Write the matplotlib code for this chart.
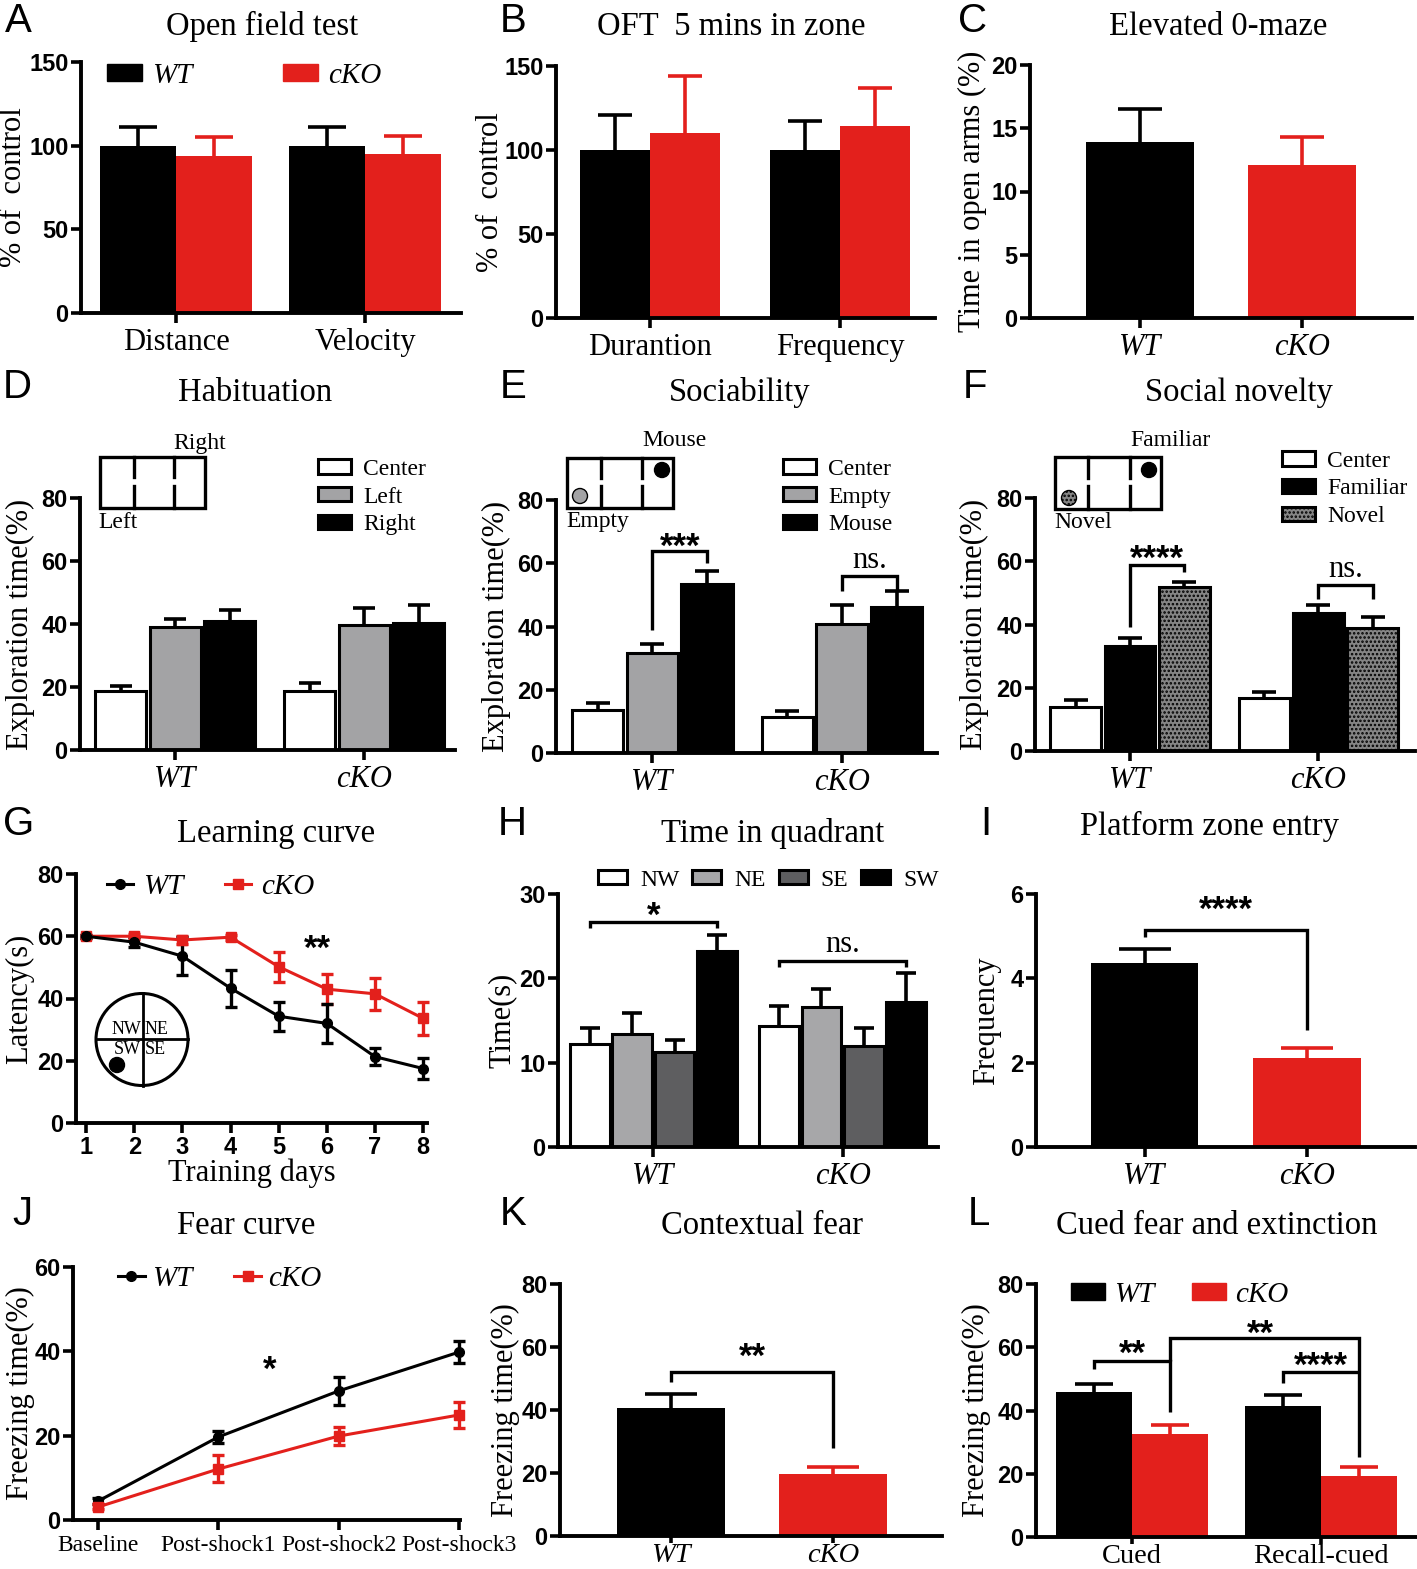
import numpy as np
import matplotlib
matplotlib.use('Agg')
import matplotlib.pyplot as plt
from matplotlib.patches import Patch, Rectangle, Circle
from matplotlib.lines import Line2D

SERIF = 'Liberation Serif'
SANS = 'Liberation Sans'
plt.rcParams['font.family'] = [SERIF, 'DejaVu Serif']
plt.rcParams['hatch.linewidth'] = 1.2

RED = '#e3201c'
GREY = '#a3a3a5'
DGREY = '#5e5e60'
NOVEL_FC = '#858585'

# ---------------- data ----------------
groups = ['WT', 'cKO']

oft_cats = ['Distance', 'Velocity']
oft_wt = [100, 100]
oft_wt_err = [11, 11]
oft_ko = [94, 95]
oft_ko_err = [11, 11]

zone_cats = ['Durantion', 'Frequency']
zone_wt = [100, 100]
zone_wt_err = [21, 17]
zone_ko = [110, 114]
zone_ko_err = [34, 23]

maze_vals = [13.9, 12.1]
maze_err = [2.6, 2.2]

hab_labels = ['Center', 'Left', 'Right']
hab_vals = [[18.7, 18.7], [39.0, 39.7], [41.0, 40.3]]
hab_err = [[1.6, 2.6], [2.6, 5.3], [3.4, 5.7]]

soc_labels = ['Center', 'Empty', 'Mouse']
soc_vals = [[13.6, 11.4], [31.6, 40.8], [53.5, 46.2]]
soc_err = [[2.2, 1.9], [2.9, 6.0], [4.1, 5.1]]

nov_labels = ['Center', 'Familiar', 'Novel']
nov_vals = [[13.9, 16.8], [33.2, 43.7], [51.9, 38.9]]
nov_err = [[2.2, 1.9], [2.6, 2.5], [1.6, 3.5]]

days = [1, 2, 3, 4, 5, 6, 7, 8]
lc_wt = [60, 58.1, 53.6, 43.3, 34.3, 32.0, 21.3, 17.5]
lc_wt_err = [0.5, 1.5, 6.2, 6.0, 4.6, 6.3, 2.8, 3.4]
lc_ko = [60, 60, 58.8, 59.7, 50.2, 43.0, 41.5, 33.6]
lc_ko_err = [0.5, 0.8, 1.2, 0.8, 4.9, 4.8, 5.2, 5.4]

quad_labels = ['NW', 'NE', 'SE', 'SW']
quad_vals = [[12.2, 14.3], [13.4, 16.6], [11.3, 12.0], [23.3, 17.2]]
quad_err = [[1.9, 2.4], [2.5, 2.1], [1.4, 2.1], [1.8, 3.4]]

platform_vals = [4.36, 2.11]
platform_err = [0.33, 0.24]

fear_steps = ['Baseline', 'Post-shock1', 'Post-shock2', 'Post-shock3']
fear_wt = [4.5, 19.7, 30.6, 39.8]
fear_wt_err = [0.6, 1.4, 3.3, 2.6]
fear_ko = [3.1, 12.1, 19.9, 24.9]
fear_ko_err = [0.6, 3.2, 2.1, 3.0]

ctx_vals = [40.6, 19.7]
ctx_err = [4.5, 2.2]

cued_cats = ['Cued', 'Recall-cued']
cued_wt = [45.9, 41.5]
cued_wt_err = [2.5, 3.4]
cued_ko = [32.6, 19.3]
cued_ko_err = [2.8, 2.9]

# ---------------- helpers ----------------
W, H = 1417, 1569
fig = plt.figure(figsize=(W / 100, H / 100), dpi=100)


def panel(l, t, r, b, xlim, ylim, yticks):
    ax = fig.add_axes([l / W, 1 - b / H, (r - l) / W, (b - t) / H])
    for s in ('top', 'right'):
        ax.spines[s].set_visible(False)
    for s in ('left', 'bottom'):
        ax.spines[s].set_linewidth(2.8)
    ax.set_xlim(*xlim)
    ax.set_ylim(*ylim)
    ax.set_yticks(yticks, [str(v) for v in yticks], fontfamily=SANS,
                  fontweight='bold', fontsize=17)
    ax.tick_params(width=2.6, length=7)
    ax.tick_params(axis='y', pad=2)
    ax.tick_params(axis='x', pad=4)
    return ax


def ylab(ax, text, xc, size=22):
    ax.set_ylabel(text, fontfamily=SERIF, fontsize=size)
    pos = ax.get_position()
    ax.yaxis.label.set_va('center')
    ax.yaxis.set_label_coords((xc / W - pos.x0) / pos.width, 0.5)


# SEM bars drawn behind the bars, so only the upper half shows
def up_err(ax, x, y, e, color, cap):
    ax.errorbar(x, y, yerr=e, fmt='none', ecolor=color,
                elinewidth=2.6, capsize=cap, capthick=2.6, zorder=1)


def grouped(ax, vals, errs, colors, pitch, width, cap, hatches=None):
    x = np.arange(len(groups))
    n = len(vals)
    for i in range(n):
        off = (i - (n - 1) / 2) * pitch
        ax.bar(x + off, vals[i], width, color=colors[i], edgecolor='black',
               linewidth=2.2, zorder=2, hatch=None if hatches is None else hatches[i])
        up_err(ax, x + off, vals[i], errs[i], 'black', cap)
    ax.set_xticks(x, groups, fontfamily=SERIF, fontsize=22, style='italic')
    return x


def bracket(ax, x1, x2, yl, yt, yr):
    ax.plot([x1, x1, x2, x2], [yl, yt, yt, yr], color='black', lw=2.4,
            clip_on=False, solid_joinstyle='miter', solid_capstyle='butt')


def stars(ax, x, y, s, size=25):
    ax.annotate(s, (x, y), xytext=(0, 2.5), textcoords='offset points',
                ha='center', va='baseline', fontfamily=SANS,
                fontweight='bold', fontsize=size)


def ns(ax, x, y):
    ax.text(x, y, 'ns.', ha='center', va='baseline', fontfamily=SERIF, fontsize=22)


def leg(ax, handles, labels, x, y, size, italic=False, **kw):
    prop = {'family': SERIF, 'size': size}
    if italic:
        prop['style'] = 'italic'
    ax.legend(handles, labels, loc='center left', bbox_to_anchor=(x / W, 1 - y / H),
              bbox_transform=fig.transFigure, frameon=False, borderpad=0,
              borderaxespad=0, prop=prop, **kw)


def box_patch(fc, hatch=None):
    return Patch(facecolor=fc, edgecolor='black', linewidth=2.2, hatch=hatch)


# ---------------- A: open field ----------------
axA = panel(81, 62, 461, 313, (-0.503, 1.508), (0, 150), [0, 50, 100, 150])
x = np.arange(len(oft_cats))
w = 0.40
axA.bar(x - w / 2, oft_wt, w, color='black', zorder=2)
axA.bar(x + w / 2, oft_ko, w, color=RED, zorder=2)
up_err(axA, x - w / 2, oft_wt, oft_wt_err, 'black', 14)
up_err(axA, x + w / 2, oft_ko, oft_ko_err, RED, 14)
axA.set_xticks(x, oft_cats, fontfamily=SERIF, fontsize=22)
ylab(axA, '% of  control', 14)
leg(axA, [Patch(color='black'), Patch(color=RED)], groups, 107, 76, 21, italic=True,
    ncol=2, handlelength=1.2, handleheight=0.5, handletextpad=0.34, columnspacing=3.1)

# ---------------- B: OFT zone ----------------
axB = panel(556, 66, 935, 318, (-0.495, 1.5), (0, 150), [0, 50, 100, 150])
x = np.arange(len(zone_cats))
w = 0.37
axB.bar(x - w / 2, zone_wt, w, color='black', zorder=2)
axB.bar(x + w / 2, zone_ko, w, color=RED, zorder=2)
up_err(axB, x - w / 2, zone_wt, zone_wt_err, 'black', 12)
up_err(axB, x + w / 2, zone_ko, zone_ko_err, RED, 12)
axB.set_xticks(x, zone_cats, fontfamily=SERIF, fontsize=22)
ylab(axB, '% of  control', 490)

# ---------------- C: 0-maze ----------------
axC = panel(1030, 65, 1412, 318, (-0.679, 1.679), (0, 20), [0, 5, 10, 15, 20])
x = np.arange(len(groups))
axC.bar(x, maze_vals, 0.667, color=['black', RED], zorder=2)
for xi, v, e, c in zip(x, maze_vals, maze_err, ['black', RED]):
    up_err(axC, [xi], [v], [e], c, 16)
axC.set_xticks(x, groups, fontfamily=SERIF, fontsize=22, style='italic')
ylab(axC, 'Time in open arms (%)', 972)

# ---------------- D: habituation ----------------
axD = panel(80, 498, 455, 750, (-0.503, 1.48), (0, 80), [0, 20, 40, 60, 80])
grouped(axD, hab_vals, hab_err, ['white', GREY, 'black'], 0.288, 0.27, 8)
ylab(axD, 'Exploration time(%)', 20)
leg(axD, [box_patch('white'), box_patch(GREY), box_patch('black')], hab_labels,
    318, 497, 17, handlelength=1.4, handleheight=0.55, handletextpad=0.5, labelspacing=0.28)

# ---------------- E: sociability ----------------
axE = panel(556, 500, 937, 753, (-0.509, 1.501), (0, 80), [0, 20, 40, 60, 80])
xg = grouped(axE, soc_vals, soc_err, ['white', GREY, 'black'], 0.288, 0.27, 8.5)
ylab(axE, 'Exploration time(%)', 496)
bracket(axE, xg[0], xg[0] + 0.288, 38.9, 63.9, 60.1)
stars(axE, xg[0] + 0.144, 60.9, '***')
bracket(axE, xg[1], xg[1] + 0.288, 51.3, 56.0, 51.3)
ns(axE, xg[1] + 0.144, 58.5)
leg(axE, [box_patch('white'), box_patch(GREY), box_patch('black')], soc_labels,
    783, 497, 17, handlelength=1.4, handleheight=0.55, handletextpad=0.5, labelspacing=0.28)

# ---------------- F: social novelty ----------------
axF = panel(1035, 498, 1415, 751, (-0.504, 1.512), (0, 80), [0, 20, 40, 60, 80])
xg = grouped(axF, nov_vals, nov_err, ['white', 'black', NOVEL_FC], 0.288, 0.27, 8.5,
             hatches=[None, None, '....'])
ylab(axF, 'Exploration time(%)', 974)
bracket(axF, xg[0], xg[0] + 0.288, 39.2, 58.9, 56.6)
stars(axF, xg[0] + 0.144, 56.5, '****')
bracket(axF, xg[1], xg[1] + 0.288, 48.1, 52.5, 48.1)
ns(axF, xg[1] + 0.144, 55.1)
leg(axF, [box_patch('white'), box_patch('black'), box_patch(NOVEL_FC, '....')], nov_labels,
    1282, 489, 17, handlelength=1.4, handleheight=0.55, handletextpad=0.5, labelspacing=0.28)

# ---------------- G: learning curve ----------------
axG = panel(76, 874, 427, 1123, (0.79, 8.08), (0, 80), [0, 20, 40, 60, 80])
axG.errorbar(days, lc_ko, yerr=lc_ko_err, color=RED, marker='s', ms=7, lw=2.2,
             elinewidth=2.4, capsize=4.5, capthick=2.4, clip_on=False)
axG.errorbar(days, lc_wt, yerr=lc_wt_err, color='black', marker='o', ms=7, lw=2.2,
             elinewidth=2.4, capsize=4.5, capthick=2.4, clip_on=False)
axG.set_xticks(days, [str(d) for d in days], fontfamily=SANS, fontweight='bold', fontsize=17)
axG.tick_params(axis='x', pad=2)
axG.set_xlabel('Training days', fontfamily=SERIF, fontsize=22, labelpad=0)
ylab(axG, 'Latency(s)', 20)
stars(axG, 5.8, 51.6, '**')
leg(axG, [Line2D([], [], color='black', marker='o', ms=7, lw=2.2),
          Line2D([], [], color=RED, marker='s', ms=7, lw=2.2)], groups,
    107, 887, 21, italic=True, ncol=2, handlelength=0.9, handletextpad=0.34, columnspacing=1.4)

# ---------------- H: quadrant ----------------
axH = panel(558, 894, 938, 1147, (-0.505, 1.505), (0, 30), [0, 10, 20, 30])
xg = grouped(axH, quad_vals, quad_err, ['white', '#a7a7a9', DGREY, 'black'], 0.224, 0.21, 7.5)
ylab(axH, 'Time(s)', 502)
bracket(axH, xg[0] - 1.5 * 0.224, xg[0] + 1.5 * 0.224, 26.0, 26.7, 26.0)
stars(axH, xg[0] + 0.0, 25.8, '*')
bracket(axH, xg[1] - 1.5 * 0.224, xg[1] + 1.5 * 0.224, 21.4, 22.1, 21.4)
ns(axH, xg[1], 23.1)
leg(axH, [box_patch('white'), box_patch('#a7a7a9'), box_patch(DGREY), box_patch('black')],
    quad_labels, 598, 880, 17, ncol=4, handlelength=1.23, handleheight=0.55,
    handletextpad=0.55, columnspacing=0.55)

# ---------------- I: platform entries ----------------
axI = panel(1036, 894, 1415, 1147, (-0.668, 1.665), (0, 6), [0, 2, 4, 6])
x = np.arange(len(groups))
axI.bar(x, platform_vals, 0.66, color=['black', RED], zorder=2)
for xi, v, e, c in zip(x, platform_vals, platform_err, ['black', RED]):
    up_err(axI, [xi], [v], [e], c, 19)
axI.set_xticks(x, groups, fontfamily=SERIF, fontsize=22, style='italic')
ylab(axI, 'Frequency', 987)
bracket(axI, x[0], x[1], 4.98, 5.14, 2.77)
stars(axI, 0.5, 5.30, '****')

# ---------------- J: fear curve ----------------
axJ = panel(73, 1267, 460, 1520, (-0.21, 3.01), (0, 60), [0, 20, 40, 60])
xs = np.arange(len(fear_steps))
axJ.errorbar(xs, fear_wt, yerr=fear_wt_err, color='black', marker='o', ms=7, lw=2.2,
             elinewidth=2.4, capsize=4, capthick=2.4, clip_on=False)
axJ.errorbar(xs, fear_ko, yerr=fear_ko_err, color=RED, marker='s', ms=7, lw=2.2,
             elinewidth=2.4, capsize=4, capthick=2.4, clip_on=False)
axJ.set_xticks(xs, fear_steps, fontfamily=SERIF, fontsize=17)
ylab(axJ, 'Freezing time(%)', 20)
stars(axJ, 1.43, 32.3, '*')
leg(axJ, [Line2D([], [], color='black', marker='o', ms=7, lw=2.2),
          Line2D([], [], color=RED, marker='s', ms=7, lw=2.2)], groups,
    118, 1279, 21, italic=True, ncol=2, handlelength=0.92, handletextpad=0.24, columnspacing=1.44)

# ---------------- K: contextual fear ----------------
axK = panel(560, 1284, 942, 1536, (-0.685, 1.673), (0, 80), [0, 20, 40, 60, 80])
x = np.arange(len(groups))
axK.bar(x, ctx_vals, 0.667, color=['black', RED], zorder=2)
for xi, v, e, c in zip(x, ctx_vals, ctx_err, ['black', RED]):
    up_err(axK, [xi], [v], [e], c, 19)
axK.set_xticks(x, groups, fontfamily=SERIF, fontsize=20.5, style='italic')
axK.tick_params(axis='x', pad=0, length=5)
ylab(axK, 'Freezing time(%)', 505)
bracket(axK, x[0], x[1], 48.9, 52.1, 27.9)
stars(axK, 0.5, 52.7, '**')

# ---------------- L: cued fear ----------------
axL = panel(1036, 1284, 1417, 1537, (-0.508, 1.508), (0, 80), [0, 20, 40, 60, 80])
x = np.arange(len(cued_cats))
w = 0.40
axL.bar(x - w / 2, cued_wt, w, color='black', zorder=2)
axL.bar(x + w / 2, cued_ko, w, color=RED, zorder=2)
up_err(axL, x - w / 2, cued_wt, cued_wt_err, 'black', 13.5)
up_err(axL, x + w / 2, cued_ko, cued_ko_err, RED, 13.5)
axL.set_xticks(x, cued_cats, fontfamily=SERIF, fontsize=20.5)
axL.tick_params(axis='x', pad=0, length=5)
ylab(axL, 'Freezing time(%)', 976)
bracket(axL, x[0] - w / 2, x[0] + w / 2, 53.2, 55.7, 39.6)
stars(axL, x[0], 53.8, '**')
bracket(axL, x[0] + w / 2, x[1] + w / 2, 55.7, 63.0, 25.3)
stars(axL, 0.68, 60.1, '**')
bracket(axL, x[1] - w / 2, x[1] + w / 2, 48.7, 52.2, 52.2)
stars(axL, x[1], 50.0, '****')
leg(axL, [Patch(color='black'), Patch(color=RED)], groups, 1071, 1295, 21, italic=True,
    ncol=2, handlelength=1.16, handleheight=0.5, handletextpad=0.31, columnspacing=1.3)

# ---------------- overlay: letters, titles, schematics ----------------
ov = fig.add_axes([0, 0, 1, 1], zorder=10)
ov.set_xlim(0, W)
ov.set_ylim(H, 0)
ov.set_facecolor('none')
ov.axis('off')

letters = [('A', 5, 32), ('B', 500, 32), ('C', 958, 32),
           ('D', 3, 398), ('E', 500, 398), ('F', 963, 398),
           ('G', 3, 835), ('H', 498, 835), ('I', 980, 835),
           ('J', 12, 1225), ('K', 500, 1225), ('L', 968, 1225)]
for s, lx, ly in letters:
    ov.text(lx, ly, s, fontfamily=SANS, fontsize=29, ha='left', va='baseline')

titles = [('Open field test', 262, 35), ('OFT  5 mins in zone', 731, 35),
          ('Elevated 0-maze', 1218, 35), ('Habituation', 255, 401),
          ('Sociability', 740, 401), ('Social novelty', 1239, 401),
          ('Learning curve', 276, 842), ('Time in quadrant', 773, 842),
          ('Platform zone entry', 1210, 835), ('Fear curve', 246, 1234),
          ('Contextual fear', 762, 1234), ('Cued fear and extinction', 1217, 1234)]
for s, tx, ty in titles:
    ov.text(tx, ty, s, fontfamily=SERIF, fontsize=23.5, ha='center', va='baseline')


def chamber(x0, y0, bw, bh, d1, d2):
    ov.add_patch(Rectangle((x0, y0), bw, bh, fill=False, lw=2.4, ec='black'))
    for xd in (d1, d2):
        ov.plot([xd, xd], [y0, y0 + bh * 0.4], color='black', lw=2.4)
        ov.plot([xd, xd], [y0 + bh * 0.56, y0 + bh], color='black', lw=2.4)


chamber(100, 457, 105, 51, 134, 174)
ov.text(173, 444, 'Right', fontsize=17, ha='left', va='center')
ov.text(98, 522, 'Left', fontsize=17, ha='left', va='center')

chamber(567, 458, 106, 50, 601, 642)
ov.add_patch(Circle((662, 470), 7.5, color='black'))
ov.add_patch(Circle((580, 496), 7.5, fc=GREY, ec='black', lw=1))
ov.text(674, 441, 'Mouse', fontsize=17, ha='center', va='center')
ov.text(566, 522, 'Empty', fontsize=17, ha='left', va='center')

chamber(1055, 457, 106, 52, 1088, 1130)
ov.add_patch(Circle((1149, 470), 7.5, color='black'))
ov.add_patch(Circle((1069, 498), 7.5, fc=NOVEL_FC, ec='black', lw=1, hatch='....'))
ov.text(1130, 441, 'Familiar', fontsize=17, ha='left', va='center')
ov.text(1054, 522, 'Novel', fontsize=17, ha='left', va='center')

# water maze schematic
ov.add_patch(Circle((142, 1039.5), 46, fill=False, lw=2.2, ec='black'))
ov.plot([96, 188], [1039, 1039], color='black', lw=2)
ov.plot([143, 143], [993, 1086], color='black', lw=2)
ov.text(141, 1029, 'NW', fontsize=13, ha='right', va='center')
ov.text(145, 1029, 'NE', fontsize=13, ha='left', va='center')
ov.text(141, 1050, 'SW', fontsize=13, ha='right', va='center')
ov.text(145, 1050, 'SE', fontsize=13, ha='left', va='center')
ov.add_patch(Circle((117, 1065), 7.5, color='black'))

fig.savefig('out.png', dpi=100)
